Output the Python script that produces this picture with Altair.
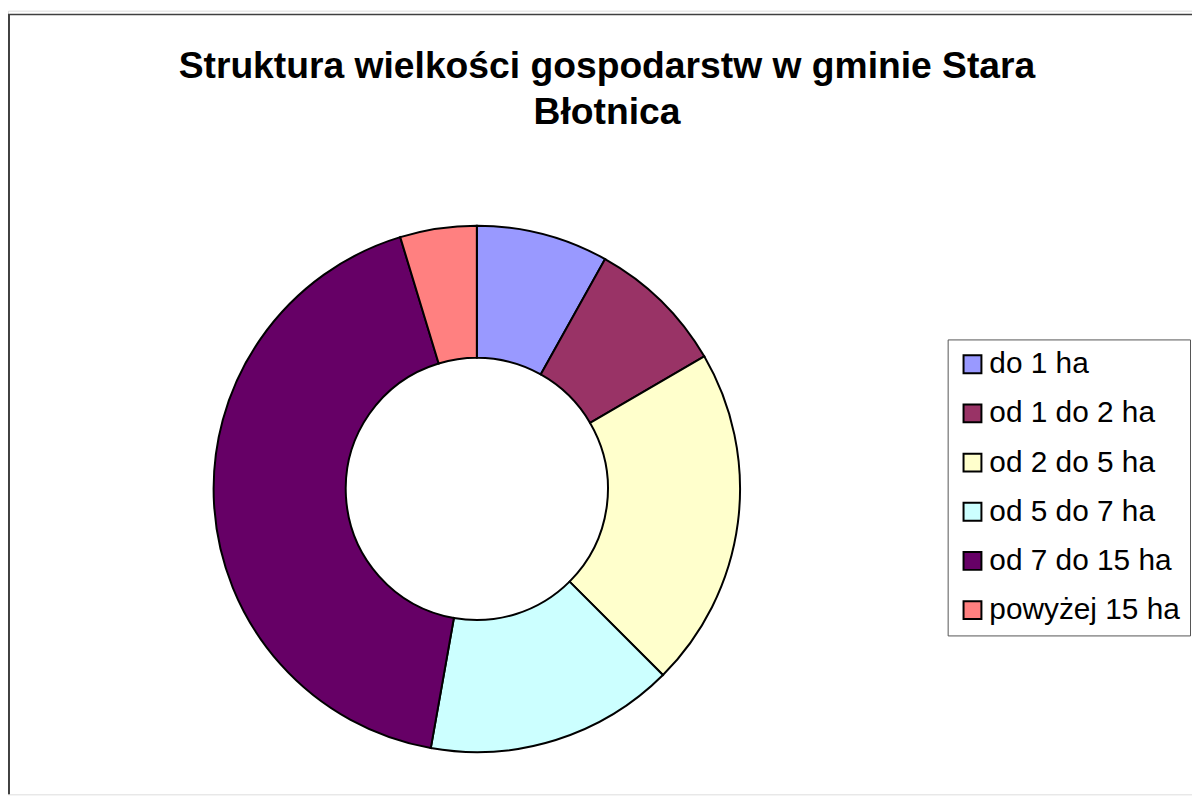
import altair as alt
import pandas as pd

categories = ["do 1 ha", "od 1 do 2 ha", "od 2 do 5 ha", "od 5 do 7 ha", "od 7 do 15 ha", "powyżej 15 ha"]
shares = [8.1, 8.5, 20.9, 15.3, 42.5, 4.7]
colors = ["#9999FF", "#993366", "#FFFFCC", "#CCFFFF", "#660066", "#FF8080"]
title_lines = ["Struktura wielkości gospodarstw w gminie Stara", "Błotnica"]

df = pd.DataFrame({"kategoria": categories, "udzial": shares, "idx": list(range(len(categories)))})

W, H = 1192, 789

donut = alt.Chart(df).mark_arc(
    outerRadius=265, innerRadius=132, stroke="black", strokeWidth=2
).encode(
    theta=alt.Theta("udzial:Q", stack=True),
    order=alt.Order("idx:Q"),
    x=alt.value(472),
    y=alt.value(481.5),
    color=alt.Color(
        "kategoria:N",
        sort=categories,
        scale=alt.Scale(domain=categories, range=colors),
        legend=alt.Legend(
            title=None,
            orient="none",
            legendX=946,
            legendY=331,
            symbolType="square",
            symbolSize=324,
            symbolStrokeColor="black",
            symbolStrokeWidth=2,
            symbolOpacity=1,
            labelFont="Liberation Sans",
            labelFontSize=30,
            labelColor="black",
            labelOffset=2,
            rowPadding=19.5,
            padding=10,
            strokeColor="#555555",
            fillColor="white",
            labelLimit=400,
        ),
    ),
)

frame = alt.Data(values=[{"k": 0}])
left_line = alt.Chart(frame).mark_rule(color="#404040", strokeWidth=2).encode(
    x=alt.value(1), y=alt.value(3.8), y2=alt.value(H)
)
top_line = alt.Chart(frame).mark_rule(color="#404040", strokeWidth=1.6).encode(
    x=alt.value(0), x2=alt.value(W), y=alt.value(3.8)
)

chart = alt.layer(left_line, top_line, donut).properties(
    width=W,
    height=H,
    autosize=alt.AutoSizeParams(type="none"),
    padding=0,
    title=alt.Title(
        text=title_lines,
        font="Liberation Sans",
        fontSize=37.5,
        fontWeight="bold",
        color="black",
        lineHeight=47,
        anchor="middle",
        offset=0,
        dx=7,
        dy=122,
    ),
).configure_view(stroke=None).configure(background="white")

chart.save("out.html", embed_options={"renderer": "svg", "actions": False})
